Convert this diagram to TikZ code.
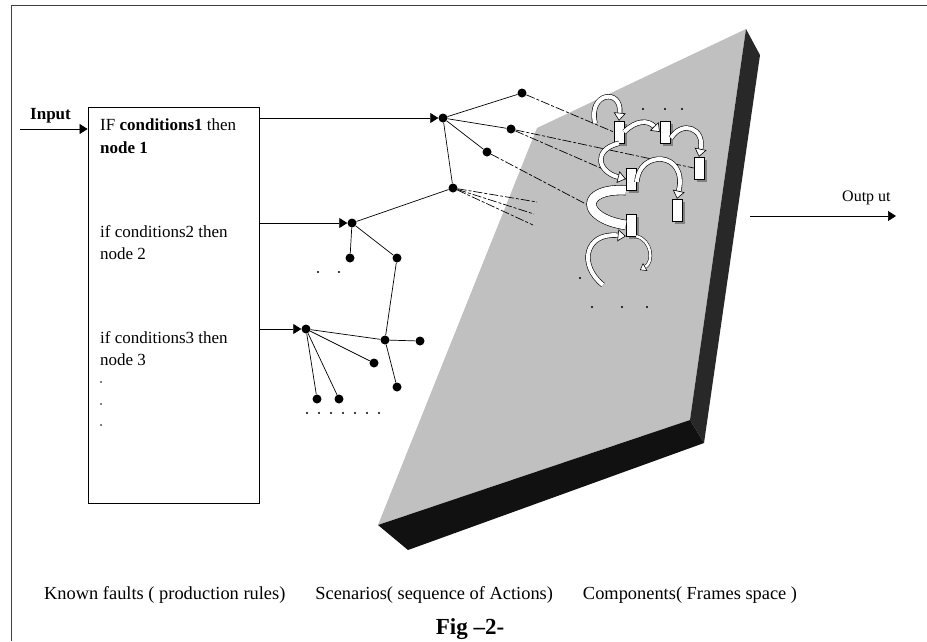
\documentclass[tikz,border=0pt]{standalone}
\usepackage{fontspec}
\setmainfont{Liberation Serif}
\usetikzlibrary{arrows.meta,shadows}
\definecolor{slabface}{HTML}{C0C0C0}
\definecolor{slabside}{HTML}{282828}
\definecolor{slabfront}{HTML}{111111}
\definecolor{framecol}{HTML}{404040}
\begin{document}
\begin{tikzpicture}[x=1pt,y=-1pt,
  dotnode/.style={circle,fill=black,inner sep=0pt,minimum size=9pt},
  smalldot/.style={circle,fill=black,inner sep=0pt,minimum size=2.4pt},
  rectbox/.style={draw,fill=white,minimum width=10pt,minimum height=22pt,inner sep=0pt,
     drop shadow={shadow xshift=3pt,shadow yshift=-3pt,fill=black!50,opacity=1}},
  conn/.style={line width=0.7pt},
  tip/.style={conn,-{Triangle[length=8pt,width=10pt]}},
  dashline/.style={line width=0.7pt,dash pattern=on 9pt off 2pt on 3pt off 2pt},
  bigarrow/.style={double=white,double distance=4pt,line width=0.6pt,
     -{Triangle[length=8pt,width=12pt,fill=white]}},
  band/.style={double=white,double distance=9pt,line width=0.6pt},
  txt/.style={inner sep=0pt,anchor=base west,font=\fontsize{17}{19}\selectfont},
  captxt/.style={inner sep=0pt,font=\fontsize{18.4}{21}\selectfont}
]
\useasboundingbox (0,0) rectangle (927,641);
% frame
\draw[framecol,line width=1pt] (11,641) -- (11,5) -- (927,5);
% slab
\fill[slabface] (537,128) -- (746,29) -- (690,420) -- (378,525) -- cycle;
\fill[slabside] (746,29) -- (760,55) -- (704,443) -- (690,420) -- cycle;
\fill[slabfront] (378,525) -- (690,420) -- (704,443) -- (408,550) -- cycle;

% rules box
\node[draw,line width=0.8pt,minimum width=171pt,minimum height=396pt,inner sep=0pt] (rules) at (173.5,305) {};
\node[txt] (t1) at (100,130) {IF \textbf{conditions1} then};
\node[txt] (t1b) at (100,153) {\textbf{node 1}};
\node[txt] (t2) at (100,237) {if conditions2 then};
\node[txt] (t2b) at (100,259) {node 2};
\node[txt] (t3) at (100,343) {if conditions3 then};
\node[txt] (t3b) at (100,365) {node 3};
\foreach \yy in {382,404,425} \fill (101,\yy) circle (0.9);

% input / output
\coordinate (inp) at (20,129);
\node[font=\fontsize{17}{19}\selectfont\bfseries,inner sep=0pt,anchor=base west] (inlab) at (30,119) {Input};
\draw[tip] (inp) -- (rules.west |- inp);
\coordinate (o1) at (750,216);
\coordinate (o2) at (896,216);
\node[font=\fontsize{16}{18}\selectfont,inner sep=0pt,anchor=base west] (outlab) at (842,201) {Outp ut};
\draw[tip] (o1) -- (o2);

% tree nodes
\node[dotnode] (n1) at (443,118) {};
\node[dotnode] (a1) at (522,93) {};
\node[dotnode] (a2) at (511,129) {};
\node[dotnode] (a3) at (487,152) {};
\node[dotnode] (a4) at (453,188) {};
\node[dotnode] (n2) at (352,223) {};
\node[dotnode] (b1) at (350,258) {};
\node[dotnode] (b2) at (397,258) {};
\node[dotnode] (b3) at (385,340) {};
\node[dotnode] (b4) at (420,341) {};
\node[dotnode] (b5) at (397,387) {};
\node[dotnode] (n3) at (306,329) {};
\node[dotnode] (c1) at (374,363) {};
\node[dotnode] (c2) at (317,399) {};
\node[dotnode] (c3) at (339,399) {};

\draw[tip] (rules.east |- n1) -- (n1.west);
\draw[tip] (rules.east |- n2) -- (n2.west);
\draw[tip] (rules.east |- n3) -- (n3.west);
\draw[conn] (n1) -- (a1);
\draw[conn] (n1) -- (a2);
\draw[conn] (n1) -- (a3);
\draw[conn] (n1) -- (a4);
\draw[conn] (a4) -- (n2);
\draw[conn] (n2) -- (b1);
\draw[conn] (n2) -- (b2);
\draw[conn] (b2) -- (b3);
\draw[conn] (b3) -- (b4);
\draw[conn] (b3) -- (b5);
\draw[conn] (n3) -- (b3);
\draw[conn] (n3) -- (c1);
\draw[conn] (n3) -- (c2);
\draw[conn] (n3) -- (c3);

% dots
\node[smalldot] (d1) at (318,272) {};
\node[smalldot] (d2) at (339,272) {};
\foreach \xx [count=\i] in {307,319,331,343,355,367,379}
  \node[smalldot] (r\i) at (\xx,413) {};
\foreach \xx [count=\i] in {643,665,682}
  \node[smalldot] (u\i) at (\xx,109) {};
\node[smalldot] (v0) at (580,278) {};
\foreach \xx [count=\i] in {592,622,647}
  \node[smalldot] (v\i) at (\xx,307) {};

% frame rectangles
\node[rectbox] (R1) at (619,132) {};
\node[rectbox] (R2) at (665,132) {};
\node[rectbox] (R3) at (699,168) {};
\node[rectbox] (R4) at (631,179) {};
\node[rectbox] (R5) at (631,225) {};
\node[rectbox] (R6) at (677,210) {};

% dashed connectors
\draw[dashline] (a1) -- (R1.west);
\draw[dashline] (a2) -- (R3.west);
\draw[dashline] (a2) -- (R4.west);
\draw[dashline] (a3) -- (R5.west);
\coordinate (e1) at (537,202);
\coordinate (e2) at (534,214);
\coordinate (e3) at (533,225);
\draw[dashline] (a4) -- (e1);
\draw[dashline] (a4) -- (e2);
\draw[dashline] (a4) -- (e3);

% curved block arrows
\draw[band] (R4.south west) .. controls (580,188) and (580,218) .. (R5.west);
\draw[bigarrow] (595,123) .. controls (588,92) and (622,88) .. (R1.north);
\draw[bigarrow] (R1.east) .. controls (636,120) and (648,120) .. (R2.west);
\draw[bigarrow] (671,138) .. controls (682,120) and (705,128) .. (R3.north);
\draw[bigarrow] (R1.south) .. controls (592,150) and (598,172) .. (R4.west);
\draw[bigarrow] (637,182) .. controls (638,150) and (688,150) .. (R6.north);
\draw[bigarrow] (603,285) .. controls (578,265) and (585,232) .. (R5.south west);
\draw[double=white,double distance=2.5pt,line width=0.5pt,-{Triangle[length=6pt,width=9pt,fill=white]}]
   (R5.south east) .. controls (652,240) and (654,262) .. (640,270);

% captions
\node[captxt,anchor=base west] (cap) at (44,599)
  {Known faults ( production rules)\hspace{30pt}Scenarios( sequence of Actions)\hspace{30pt}Components( Frames space )};
\node[inner sep=0pt,anchor=base,font=\fontsize{23}{26}\selectfont\bfseries] (fig) at (470,634) {Fig --2-};
\end{tikzpicture}
\end{document}
